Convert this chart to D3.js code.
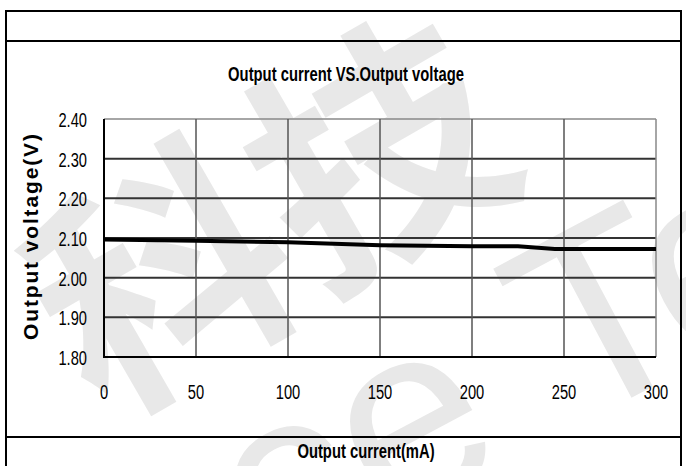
<!DOCTYPE html>
<html lang="en">
<meta charset="utf-8">
<head>
    <script src="https://d3js.org/d3.v7.min.js"></script>
    <style>
        body { margin: 0; background: #fff; }
        svg { display: block; }
    </style>
</head>
<body>
<div id="chart"></div>
<script>
// data
const currents = [0, 50, 100, 150, 200, 225, 245, 300];
const voltages = [2.096, 2.093, 2.089, 2.082, 2.079, 2.079, 2.072, 2.072];
const xTicks = [0, 50, 100, 150, 200, 250, 300];
const yTicks = [1.80, 1.90, 2.00, 2.10, 2.20, 2.30, 2.40];

const W = 686, H = 466;
const font = "'Liberation Sans', Arial, sans-serif";

const svg = d3.select("#chart").append("svg")
    .attr("width", W).attr("height", H);

// watermark
const wm = svg.append("g").attr("fill", "#e8e8e8");
wm.append("text").attr("transform", "translate(100,420) rotate(-30)")
    .style("font-family", "'Noto Sans CJK SC', sans-serif").style("font-weight", "bold")
    .style("font-size", "250px").text("科技");
wm.append("text").attr("transform", "translate(270,590) rotate(-28)")
    .style("font-family", font)
    .style("font-size", "260px").text("ce Tek");

// frame
const frame = svg.append("g").attr("stroke", "#000").attr("stroke-width", 2).attr("fill", "none");
frame.append("line").attr("x1", 6).attr("x2", 681).attr("y1", 11).attr("y2", 11);
frame.append("line").attr("x1", 6).attr("x2", 681).attr("y1", 41).attr("y2", 41);
frame.append("line").attr("x1", 6).attr("x2", 681).attr("y1", 437).attr("y2", 437);
frame.append("line").attr("x1", 6).attr("x2", 6).attr("y1", 10).attr("y2", H);
frame.append("line").attr("x1", 681).attr("x2", 681).attr("y1", 10).attr("y2", H);

const x = d3.scaleLinear().domain([0, 300]).range([104, 656]);
const y = d3.scaleLinear().domain([1.8, 2.4]).range([357, 119]);

// grid
svg.append("g").selectAll("line").data(yTicks.slice(1, -1)).join("line")
    .attr("x1", x(0)).attr("x2", x(300))
    .attr("y1", d => y(d)).attr("y2", d => y(d))
    .attr("stroke", "#333").attr("stroke-width", 2);
svg.append("line").attr("x1", x(0)).attr("x2", x(300))
    .attr("y1", y(2.4)).attr("y2", y(2.4))
    .attr("stroke", "#888").attr("stroke-width", 1.5);
svg.append("g").selectAll("line").data(xTicks.slice(1)).join("line")
    .attr("x1", d => x(d)).attr("x2", d => x(d))
    .attr("y1", y(2.4)).attr("y2", y(1.8))
    .attr("stroke", d => d === 300 ? "#888" : "#555").attr("stroke-width", 1.5);

// axes lines
svg.append("line").attr("x1", x(0)).attr("x2", x(0)).attr("y1", y(2.4)).attr("y2", y(1.8))
    .attr("stroke", "#000").attr("stroke-width", 2);
svg.append("line").attr("x1", x(0) - 1).attr("x2", x(300)).attr("y1", y(1.8)).attr("y2", y(1.8))
    .attr("stroke", "#000").attr("stroke-width", 2);

// tick labels (condensed like the original narrow font)
svg.append("g").selectAll("text").data(yTicks).join("text")
    .attr("transform", d => `translate(87,${y(d) + 8}) scale(0.7,1)`)
    .attr("text-anchor", "end")
    .style("font-family", font).style("font-size", "21px")
    .text(d => d.toFixed(2));
svg.append("g").selectAll("text").data(xTicks).join("text")
    .attr("transform", d => `translate(${x(d)},399) scale(0.7,1)`)
    .attr("text-anchor", "middle")
    .style("font-family", font).style("font-size", "21px")
    .text(d => d);

// data line
svg.append("path")
    .datum(currents.map((c, i) => [c, voltages[i]]))
    .attr("fill", "none").attr("stroke", "#000").attr("stroke-width", 4)
    .attr("d", d3.line().x(d => x(d[0])).y(d => y(d[1])));

// titles
svg.append("text").attr("transform", "translate(346,81) scale(0.74,1)").attr("text-anchor", "middle")
    .style("font-family", font).style("font-weight", "bold").style("font-size", "20px")
    .text("Output current VS.Output voltage");
svg.append("text").attr("transform", "translate(366,458) scale(0.74,1)").attr("text-anchor", "middle")
    .style("font-family", font).style("font-weight", "bold").style("font-size", "20px")
    .text("Output current(mA)");
svg.append("text").attr("transform", "translate(38,237) rotate(-90)").attr("text-anchor", "middle")
    .style("font-family", font).style("font-weight", "bold").style("font-size", "21px")
    .attr("textLength", 206).attr("lengthAdjust", "spacing")
    .text("Output voltage(V)");
</script>
</body>
</html>
